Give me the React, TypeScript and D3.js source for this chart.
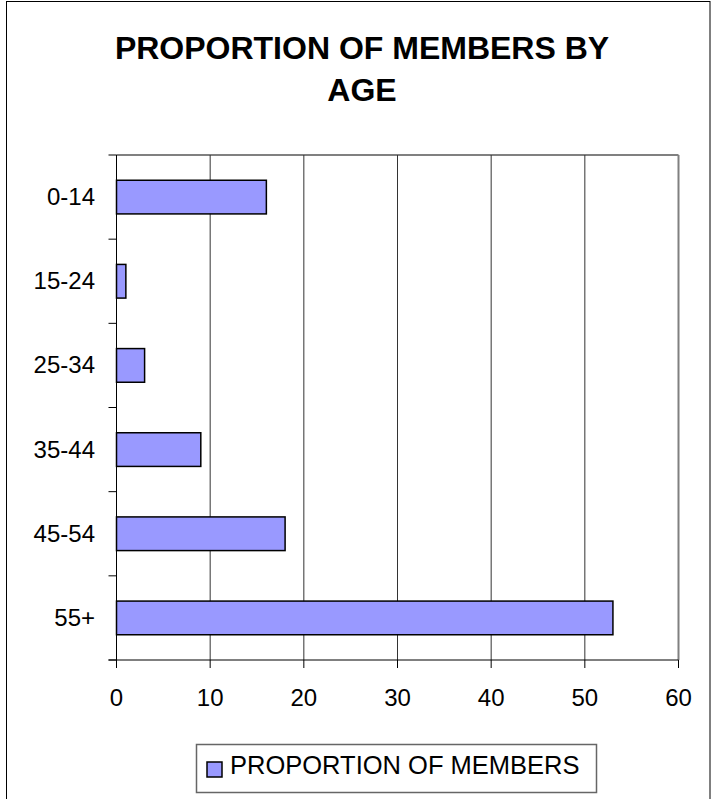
import React from "react";
import * as d3 from "d3";

const categories = ["0-14", "15-24", "25-34", "35-44", "45-54", "55+"];
const values = [16, 1, 3, 9, 18, 53];
const xTicks = [0, 10, 20, 30, 40, 50, 60];
const titleLines = ["PROPORTION OF MEMBERS BY", "AGE"];
const seriesName = "PROPORTION OF MEMBERS";

export default function App() {
  const W = 712;
  const H = 799;
  const left = 116.5;
  const right = 678.5;
  const top = 155;
  const bottom = 660;
  const font = "'Liberation Sans', Arial, sans-serif";

  const x = d3.scaleLinear().domain([0, 60]).range([left, right]);
  const y = d3.scaleBand<string>().domain(categories).range([top, bottom]).paddingInner(0.6).paddingOuter(0.3);
  const yEdges = d3.range(categories.length + 1).map((i) => top + (i * (bottom - top)) / categories.length);

  return (
    <svg width={W} height={H} style={{ position: "absolute", left: 0, top: 0, background: "#fff" }}>
      <rect x={6.5} y={1.5} width={703.5} height={H + 5} fill="#fff" stroke="#000" strokeWidth={1} />
      {titleLines.map((t, i) => (
        <text key={t} x={362} y={59 + i * 42} textAnchor="middle" fontFamily={font} fontWeight="bold" fontSize={32} fill="#000">
          {t}
        </text>
      ))}
      {/* plot border top/right */}
      <line x1={left} x2={right} y1={top} y2={top} stroke="#808080" strokeWidth={2} />
      <line x1={right} x2={right} y1={top} y2={bottom} stroke="#808080" strokeWidth={2} />
      {/* gridlines */}
      {xTicks.slice(1, -1).map((t) => (
        <line key={t} x1={x(t)} x2={x(t)} y1={top} y2={bottom} stroke="#333" strokeWidth={1} />
      ))}
      {/* bars */}
      {categories.map((c, i) => (
        <rect
          key={c}
          x={x(0)}
          y={y(c)}
          width={x(values[i]) - x(0)}
          height={y.bandwidth()}
          fill="#9999FF"
          stroke="#000"
          strokeWidth={1.5}
        />
      ))}
      {/* axes */}
      <line x1={left} x2={left} y1={top} y2={bottom} stroke="#000" strokeWidth={1} />
      <line x1={left - 8} x2={right} y1={bottom} y2={bottom} stroke="#000" strokeWidth={1} />
      {yEdges.map((e, i) => (
        <line key={i} x1={left - 8} x2={left} y1={e} y2={e} stroke="#000" strokeWidth={1} />
      ))}
      {xTicks.map((t) => (
        <g key={t}>
          <line x1={x(t)} x2={x(t)} y1={bottom} y2={bottom + 8} stroke="#000" strokeWidth={1} />
          <text x={x(t)} y={706} textAnchor="middle" fontFamily={font} fontSize={24} fill="#000">
            {t}
          </text>
        </g>
      ))}
      {categories.map((c) => (
        <text key={c} x={95} y={(y(c) as number) + y.bandwidth() / 2 + 8} textAnchor="end" fontFamily={font} fontSize={24} fill="#000">
          {c}
        </text>
      ))}
      {/* legend */}
      <rect x={196.5} y={744.5} width={400} height={48} fill="#fff" stroke="#666" strokeWidth={1.5} />
      <rect x={207} y={762} width={15} height={15} fill="#9999FF" stroke="#000" strokeWidth={1.5} />
      <text x={230} y={774} fontFamily={font} fontSize={25.5} fill="#000">
        {seriesName}
      </text>
    </svg>
  );
}
